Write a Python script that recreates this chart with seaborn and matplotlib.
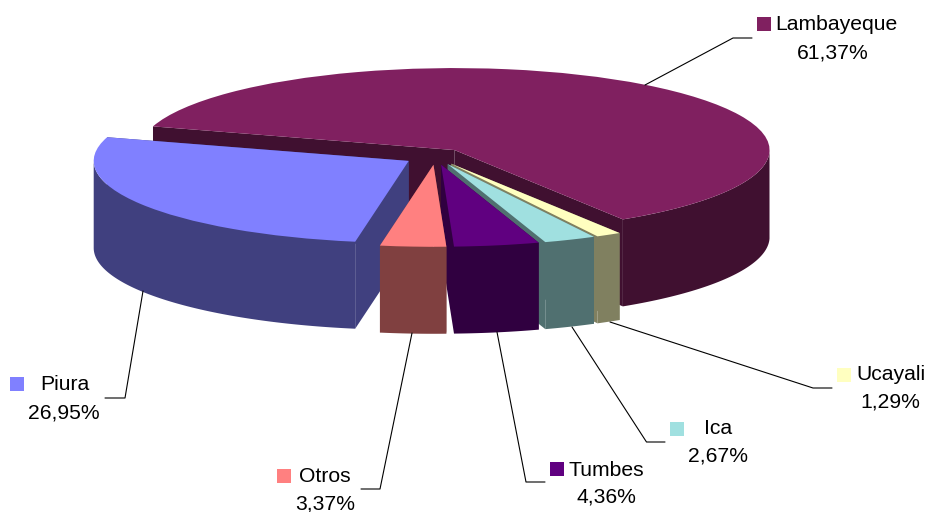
import numpy as np
import matplotlib
matplotlib.use('Agg')
import matplotlib.pyplot as plt
import seaborn as sns
from matplotlib.patches import Rectangle

regiones = ['Lambayeque', 'Piura', 'Otros', 'Tumbes', 'Ica', 'Ucayali']
porcentajes = [61.37, 26.95, 3.37, 4.36, 2.67, 1.29]
colores = ['#802060', '#8080FF', '#FF8080', '#600080', '#A0E0E0', '#FFFFC0']
colores_lado = ['#401030', '#40407F', '#804040', '#300040', '#507070', '#808060']

sns.set_theme(style='white')
plt.rcParams['font.family'] = ['Liberation Sans', 'DejaVu Sans']

W, H = 928, 512
fig = plt.figure(figsize=(W / 100, H / 100), dpi=100, facecolor='white')
ax = fig.add_axes([0, 0, 1, 1])

# la torta "3D": elipse sacada de un pie normal cambiando las escalas x/y
wedges, _ = ax.pie(porcentajes, explode=[0.1] * 6, startangle=-57.7, colors=colores,
                   radius=1, counterclock=True, wedgeprops={'linewidth': 0})
cx, cy = 435.5, 156.6
rx, ry = 315, 82
alto = 87 / ry
ax.set_aspect('auto')
ax.set_xlim(-cx / rx, (W - cx) / rx)
ax.set_ylim((cy - H) / ry, cy / ry)
ax.axis('off')


def pared(w, color, z):
    c = np.array(w.center)
    # paredes radiales
    for t in (w.theta1, w.theta2):
        b = c + [np.cos(np.radians(t)), np.sin(np.radians(t))]
        ax.fill([c[0], b[0], b[0], c[0]], [c[1], b[1], b[1] - alto, c[1] - alto],
                color=color, lw=0, zorder=z)
    # borde de adelante
    ts = np.linspace(w.theta1, w.theta2, 200)
    ts = ts[np.sin(np.radians(ts)) <= 0.0]
    if len(ts):
        x = c[0] + np.cos(np.radians(ts))
        y = c[1] + np.sin(np.radians(ts))
        ax.fill(np.r_[x, x[::-1]], np.r_[y, y[::-1] - alto], color=color, lw=0, zorder=z)


# de atras hacia adelante
orden = [0, 1, 5, 4, 3, 2]
for n, i in enumerate(orden):
    pared(wedges[i], colores_lado[i], n * 2 + 1)
    wedges[i].set_zorder(n * 2 + 1.5)

# capa en pixeles para etiquetas y lineas guia
ov = fig.add_axes([0, 0, 1, 1], facecolor='none')
ov.set_xlim(0, W)
ov.set_ylim(H, 0)
ov.axis('off')

guias = {
    'Lambayeque': [(645, 85), (733, 38), (752, 38)],
    'Piura': [(143, 291), (125, 398), (105, 398)],
    'Otros': [(412, 333), (380, 489), (361, 489)],
    'Tumbes': [(497, 332), (526, 482), (545, 482)],
    'Ica': [(572, 327), (646.5, 442), (665, 442)],
    'Ucayali': [(610, 322), (813, 388), (832, 388)],
}
# x nombre, y nombre, x valor, y valor, x cuadro, y cuadro
textos = {
    'Lambayeque': (836, 25, 833, 53, 757, 17),
    'Piura': (65, 385, 64, 413, 10, 377),
    'Otros': (325, 477, 325, 504, 277, 469),
    'Tumbes': (606, 470, 606, 497, 550, 462),
    'Ica': (718, 429, 718, 456, 670, 422),
    'Ucayali': (891, 375, 890, 402, 837, 368),
}

for reg, val, col in zip(regiones, porcentajes, colores):
    xs, ys = zip(*guias[reg])
    ov.plot(xs, ys, color='black', lw=0.8)
    xn, yn, xv, yv, xc, yc = textos[reg]
    ov.text(xn, yn, reg, ha='center', va='center', fontsize=15.2, color='black')
    ov.text(xv, yv, f'{val:.2f}%'.replace('.', ','), ha='center', va='center',
            fontsize=15.2, color='black')
    ov.add_patch(Rectangle((xc, yc), 14, 14, color=col, lw=0))

fig.savefig('out.png', dpi=100)
